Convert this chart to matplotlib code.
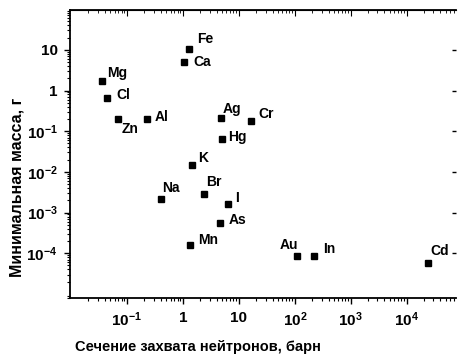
import matplotlib.pyplot as plt
import numpy as np

plt.rcParams['font.family'] = ['Liberation Sans', 'DejaVu Sans']
plt.rcParams['mathtext.fontset'] = 'custom'
plt.rcParams['mathtext.rm'] = 'Liberation Sans:bold'
plt.rcParams['mathtext.it'] = 'Liberation Sans:bold'
plt.rcParams['mathtext.bf'] = 'Liberation Sans:bold'

elements = ['Fe', 'Ca', 'Mg', 'Cl', 'Zn', 'Al', 'Ag', 'Cr', 'Hg',
            'K', 'Br', 'Na', 'I', 'As', 'Mn', 'Au', 'In', 'Cd']
cross_section = [1.28, 1.04, 0.036, 0.044, 0.069, 0.228, 4.77, 16.4, 4.97,
                 1.45, 2.37, 0.405, 6.36, 4.58, 1.33, 109, 218, 23700]
min_mass = [10.8, 4.9, 1.76, 0.67, 0.205, 0.205, 0.217, 0.183, 0.066,
            0.0152, 0.00294, 0.0021, 0.00158, 0.00057, 1.56e-4, 8.8e-5, 8.8e-5, 5.6e-5]

x_ticks = [0.1, 1, 10, 100, 1000, 10000]
x_tick_labels = [r'$10^{-1}$', '1', '10', r'$10^{2}$', r'$10^{3}$', r'$10^{4}$']
y_ticks = [1e-4, 1e-3, 1e-2, 0.1, 1, 10]
y_tick_labels = [r'$10^{-4}$', r'$10^{-3}$', r'$10^{-2}$', r'$10^{-1}$', '1', '10']

# label offsets in pixels (dx, dy) and horizontal alignment
offsets = {'Fe': (8, 10, 'left'), 'Ca': (9, 0, 'left'), 'Mg': (5, 8, 'left'),
           'Cl': (9, 3, 'left'), 'Zn': (4, -10, 'left'), 'Al': (8, 2, 'left'),
           'Ag': (2, 9, 'left'), 'Cr': (7, 7, 'left'), 'Hg': (6, 2, 'left'),
           'K': (6, 7, 'left'), 'Br': (2, 12, 'left'), 'Na': (1, 11, 'left'),
           'I': (7, 6, 'left'), 'As': (9, 3, 'left'), 'Mn': (8, 5, 'left'),
           'Au': (-8, 11, 'center'), 'In': (9, 7, 'left'), 'Cd': (3, 12, 'left')}

fig = plt.figure(figsize=(4.58, 3.6), dpi=100)
ax = fig.add_axes([70/458, 1 - 298/360, 386/458, 288/360])

ax.plot(cross_section, min_mass, 's', color='black', ms=4.3, mec='black')
ax.set_xscale('log')
ax.set_yscale('log')
ax.set_xlim(10**-2.018, 10**4.88)
ax.set_ylim(10**-5.1, 10**1.98)

for name, x, y in zip(elements, cross_section, min_mass):
    dx, dy, ha = offsets[name]
    ax.annotate(name, (x, y), xytext=(dx * 0.72, dy * 0.72), textcoords='offset points',
                ha=ha, va='center', fontsize=10, fontweight='bold')

ax.set_xticks(x_ticks)
ax.set_xticklabels(x_tick_labels)
ax.set_yticks(y_ticks)
ax.set_yticklabels(y_tick_labels)

for lab in ax.get_xticklabels() + ax.get_yticklabels():
    lab.set_fontweight('bold')
    lab.set_fontsize(11)

ax.tick_params(which='major', direction='out', length=4, width=1, top=False, right=False, pad=5)
ax.tick_params(which='minor', direction='out', length=2.2, width=0.8, top=False, right=False)

# top ticks pointing inward
ax_top = ax.secondary_xaxis('top')
ax_top.tick_params(which='both', direction='in', labeltop=False)
ax_top.tick_params(which='major', length=4)
ax_top.tick_params(which='minor', length=2.2)
ax_top.set_xticks(x_ticks)
ax_top.set_xticklabels([])

# small inward ticks at the right edge, majors only
ax_right = ax.secondary_yaxis('right')
ax_right.tick_params(which='major', direction='in', length=3, width=1, labelright=False)
ax_right.tick_params(which='minor', length=0)
ax_right.set_yticks(y_ticks)
ax_right.set_yticklabels([])
ax_right.spines['right'].set_visible(False)

for s in ['left', 'bottom', 'top']:
    ax.spines[s].set_linewidth(1.3)
ax.spines['right'].set_visible(False)

fig.text(198/458, 1 - 347/360, 'Сечение захвата нейтронов, барн', ha='center', va='center',
         fontsize=10.5, fontweight='bold')
fig.text(17/458, 1 - 187/360, 'Минимальная масса, г', ha='center', va='center',
         rotation=90, fontsize=11.5, fontweight='bold')

fig.savefig('out.png', dpi=100)
